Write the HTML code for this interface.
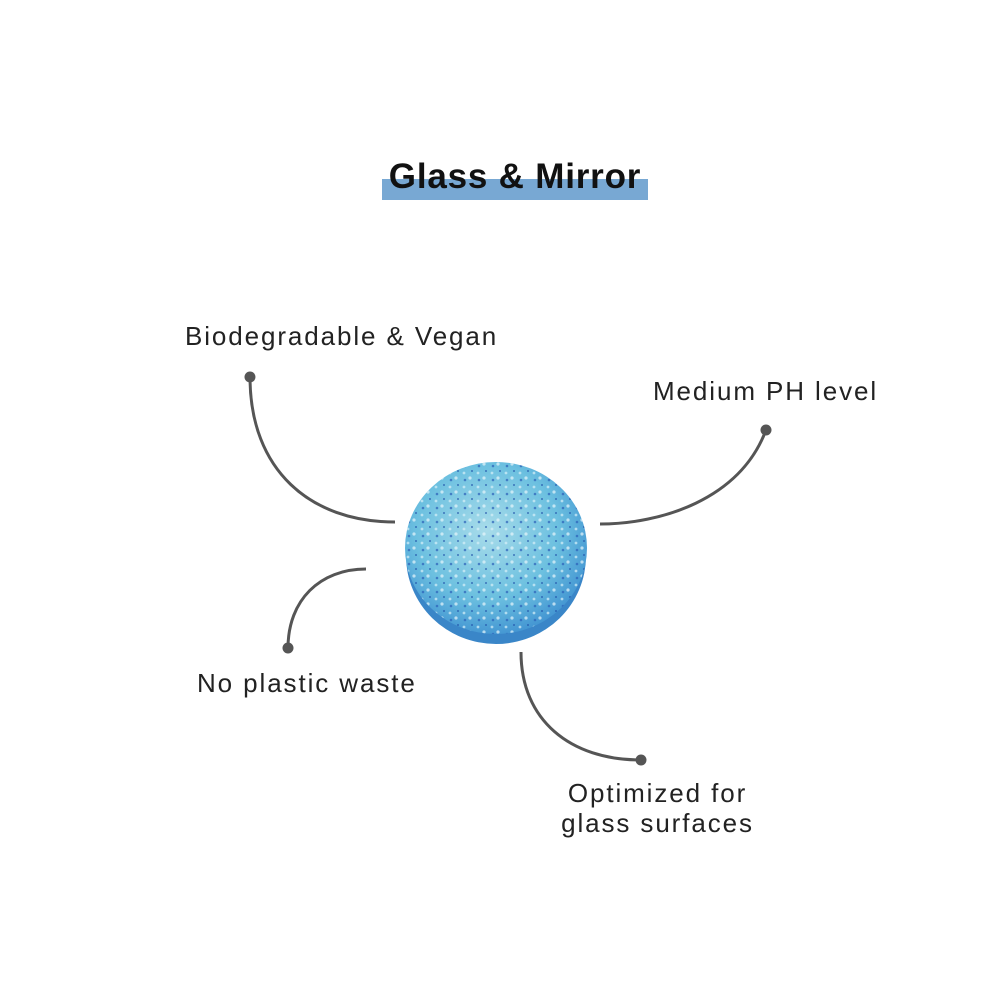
<!DOCTYPE html>
<html><head><style>
body{margin:0;width:1000px;height:1000px;background:#fff;position:relative;overflow:hidden;font-family:"Liberation Sans",sans-serif;}
.t{position:absolute;color:#222;font-size:26px;letter-spacing:1.9px;white-space:nowrap;line-height:30px}
</style></head><body>
<div style="position:absolute;left:382px;top:179px;width:266px;height:21px;background:#78a8d3"></div>
<div style="position:absolute;left:382px;top:156px;width:266px;text-align:center;font-size:35px;font-weight:bold;color:#111;line-height:42px;letter-spacing:0.8px">Glass &amp; Mirror</div>
<svg width="1000" height="1000" style="position:absolute;left:0;top:0">
<defs>
<radialGradient id="g" cx="45%" cy="40%" r="65%">
<stop offset="0" stop-color="#a8dcea"/><stop offset="0.6" stop-color="#6cc0e0"/><stop offset="1" stop-color="#3d8fd0"/>
</radialGradient>
<pattern id="sp" width="14" height="14" patternUnits="userSpaceOnUse">
<circle cx="3" cy="4" r="1.3" fill="#2a5fb8"/><circle cx="10" cy="9" r="1" fill="#1e4fa8"/><circle cx="8" cy="2" r="1.6" fill="#e8f6fb"/><circle cx="2" cy="11" r="1.4" fill="#d8f0f8"/>
</pattern>
</defs>
<g fill="none" stroke="#555" stroke-width="3">
<path d="M250,377 C250,470 310,522 395,522"/>
<path d="M766,430 C740,500 660,524 600,524"/>
<path d="M366,569 C320,569 288,600 288,648"/>
<path d="M521,652 C521,720 570,760 641,760"/>
</g>
<g fill="#555"><circle cx="250" cy="377" r="5.5"/><circle cx="766" cy="430" r="5.5"/><circle cx="288" cy="648" r="5.5"/><circle cx="641" cy="760" r="5.5"/></g>
<ellipse cx="496" cy="556" rx="90" ry="88" fill="#3a86c8"/>
<ellipse cx="496" cy="548" rx="91" ry="86" fill="url(#g)"/>
<ellipse cx="496" cy="548" rx="91" ry="86" fill="url(#sp)" opacity="0.7"/>
</svg>
<div class="t" style="left:185px;top:321px">Biodegradable &amp; Vegan</div>
<div class="t" style="left:653px;top:376px">Medium PH level</div>
<div class="t" style="left:197px;top:668px">No plastic waste</div>
<div class="t" style="left:550px;top:778px;width:215px;text-align:center">Optimized for<br>glass surfaces</div>
</body></html>
